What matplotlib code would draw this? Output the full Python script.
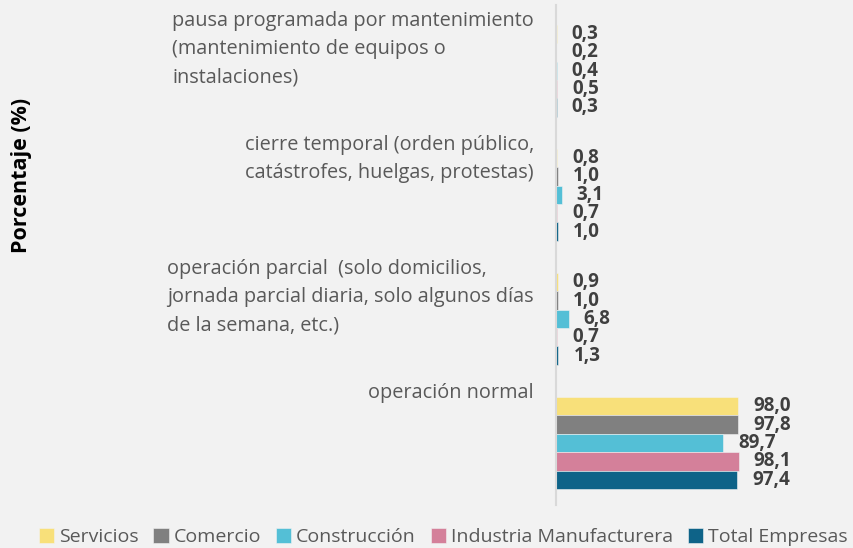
import matplotlib.pyplot as plt

plt.rcParams['font.family'] = ['Open Sans', 'DejaVu Sans']

categories = [
    "pausa programada por mantenimiento\n(mantenimiento de equipos o\ninstalaciones)",
    "cierre temporal (orden público,\ncatástrofes, huelgas, protestas)",
    "operación parcial  (solo domicilios,\njornada parcial diaria, solo algunos días\nde la semana, etc.)",
    "operación normal",
]
series = ["Servicios", "Comercio", "Construcción", "Industria Manufacturera", "Total Empresas"]
servicios = [0.3, 0.8, 0.9, 98.0]
comercio = [0.2, 1.0, 1.0, 97.8]
construccion = [0.4, 3.1, 6.8, 89.7]
industria = [0.5, 0.7, 0.7, 98.1]
total = [0.3, 1.0, 1.3, 97.4]
values = [servicios, comercio, construccion, industria, total]
colors = ['#f8e07a', '#808080', '#54bfd6', '#d4809a', '#0e6388']

bg = '#f2f2f2'
fig = plt.figure(figsize=(8.54, 5.48), dpi=100, facecolor=bg)
ax = fig.add_axes([556 / 854, 43 / 548, 294 / 854, 500 / 548], facecolor=bg)

h = 0.148
for j, (name, vals, col) in enumerate(zip(series, values, colors)):
    ys = [i + (j - 2) * h for i in range(len(categories))]
    ax.barh(ys, vals, height=h, color=col, edgecolor=bg, linewidth=0.4, label=name)
    for y, v in zip(ys, vals):
        ax.annotate(f"{v:.1f}".replace('.', ','), xy=(v, y), xytext=(15, 0),
                    textcoords='offset pixels', ha='left', va='center',
                    fontsize=13.5, fontweight='bold', color='#404040')

for i, cat in enumerate(categories):
    ax.annotate(cat, xy=(0, i - 2.5 * h), xycoords=ax.get_yaxis_transform(),
                xytext=(-22, 14), textcoords='offset pixels', ha='right', va='top',
                multialignment='left', fontsize=14.3, color='#595959', linespacing=1.55)

ax.set_xlim(0, 158)
ax.set_ylim(3.5, -0.53)
ax.set_xticks([])
ax.set_yticks([])
for s in ['top', 'right', 'bottom']:
    ax.spines[s].set_visible(False)
ax.spines['left'].set_color('#d9d9d9')
ax.spines['left'].set_linewidth(1.5)

fig.text(22 / 854, 1 - 175 / 548, "Porcentaje (%)", rotation=90, ha='center', va='center',
         fontsize=15.5, fontweight='bold', color='black')

fig.legend(loc='center', bbox_to_anchor=(0.519, 1 - 537 / 548), ncol=5, frameon=False,
           handlelength=0.8, handleheight=0.8, handletextpad=0.25, columnspacing=0.75,
           fontsize=14, labelcolor='#595959', borderaxespad=0)

fig.savefig('out.png', dpi=100, facecolor=bg)
